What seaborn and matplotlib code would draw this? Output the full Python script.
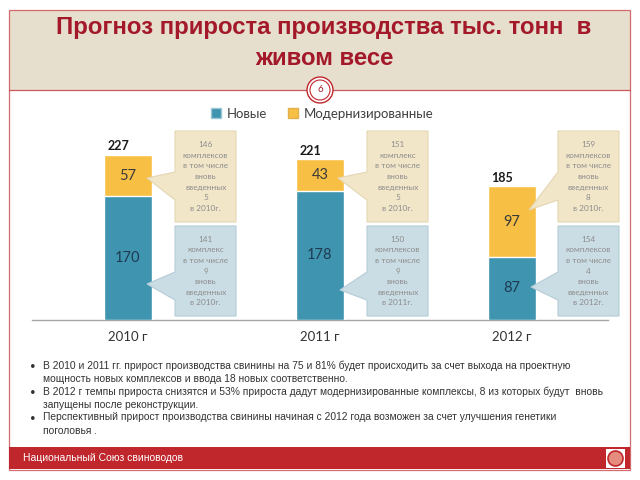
import numpy as np
import pandas as pd
import matplotlib
matplotlib.use("Agg")
import matplotlib.pyplot as plt
import seaborn as sns
from matplotlib.patches import Rectangle, Polygon, Ellipse, Patch

# ----------------------------------------------------------------------
# DATA
# ----------------------------------------------------------------------
years = ["2010 г", "2011 г", "2012 г"]
new_vals = [170, 178, 87]          # Новые
modern_vals = [57, 43, 97]         # Модернизированные
total_labels = [227, 221, 185]

yellow_notes = [
    "146\nкомплексов\nв том числе\nвновь\nвведенных\n5\nв 2010г.",
    "151\nкомплекс\nв том числе\nвновь\nвведенных\n5\nв 2010г.",
    "159\nкомплексов\nв том числе\nвновь\nвведенных\n8\nв 2010г.",
]
blue_notes = [
    "141\nкомплекс\nв том числе\n9\nвновь\nвведенных\nв 2010г.",
    "150\nкомплексов\nв том числе\n9\nвновь\nвведенных\nв 2011г.",
    "154\nкомплексов\nв том числе\n4\nвновь\nвведенных\nв 2012г.",
]

title_text = "Прогноз прироста производства тыс. тонн  в\nживом весе"
bullets = [
    "В 2010 и 2011 гг. прирост производства свинины на 75 и 81% будет происходить за счет выхода на проектную\n"
    "мощность новых комплексов и ввода 18 новых соответственно.",
    "В 2012 г темпы прироста снизятся и 53% прироста дадут модернизированные комплексы, 8 из которых будут  вновь\n"
    "запущены после реконструкции.",
    "Перспективный прирост производства свинины начиная с 2012 года возможен за счет улучшения генетики\n"
    "поголовья .",
]
footer_text = "Национальный Союз свиноводов"

BLUE = "#3F94B0"
YELLOW = "#F8BF45"
RED = "#C0272D"
DARK_RED = "#A3192A"

df = pd.DataFrame({"year": years, "new": new_vals, "modern": modern_vals})
df["stack"] = df["new"] + df["modern"]

sns.set_theme(style="white")
plt.rcParams["font.family"] = ["Lato", "DejaVu Sans"]

W, H = 640, 480


def px(x, y):
    return (x / W, 1 - y / H)


fig = plt.figure(figsize=(6.4, 4.8), dpi=100)
fig.patch.set_facecolor("white")

# ----------------------------------------------------------------------
# slide frame
# ----------------------------------------------------------------------
fig.add_artist(Rectangle(px(9, 90), 621 / W, 80 / H, transform=fig.transFigure,
                         facecolor="#E6DFCD", edgecolor="none", zorder=0))
fig.add_artist(Rectangle(px(9, 470), 621 / W, 460 / H, transform=fig.transFigure,
                         facecolor="none", edgecolor="#D26A6E", lw=0.9, zorder=1))
fig.add_artist(plt.Line2D([9 / W, 630 / W], [1 - 90 / H] * 2, transform=fig.transFigure,
                          color="#C9575C", lw=0.9, zorder=1))
fig.add_artist(Rectangle(px(9, 469), 621 / W, 22 / H, transform=fig.transFigure,
                         facecolor=RED, edgecolor="none", zorder=2))

fig.text(324 / W, 1 - 43 / H, title_text, ha="center", va="center", fontsize=17.3,
         fontweight="bold", color=DARK_RED,
         family=["Liberation Sans", "DejaVu Sans"], linespacing=1.42)

cx, cy = px(320, 90)
fig.add_artist(Ellipse((cx, cy), 26 / W, 26 / H, transform=fig.transFigure,
                       facecolor="white", edgecolor=RED, lw=1.0, zorder=3))
fig.add_artist(Ellipse((cx, cy), 20 / W, 20 / H, transform=fig.transFigure,
                       facecolor="white", edgecolor=RED, lw=0.8, zorder=3))
fig.text(cx, cy, "6", ha="center", va="center", fontsize=7, color=DARK_RED, zorder=4)

fig.text(23 / W, 1 - 458 / H, footer_text, ha="left", va="center", fontsize=7.5,
         color="white", family=["Liberation Sans Narrow", "Liberation Sans", "DejaVu Sans"])
fig.add_artist(Rectangle(px(606, 468), 19 / W, 19 / H, transform=fig.transFigure,
                         facecolor="white", edgecolor="none", zorder=3))
lx, ly = px(615.5, 458.5)
fig.add_artist(Ellipse((lx, ly), 15 / W, 15 / H, transform=fig.transFigure,
                       facecolor="#E58C7E", edgecolor=RED, lw=1.2, zorder=4))

# ----------------------------------------------------------------------
# bars
# ----------------------------------------------------------------------
ax = fig.add_axes([32 / W, 160 / H, 576 / W, 218 / H])
sns.barplot(data=df, x="year", y="stack", color=YELLOW, width=0.25,
            saturation=1, ax=ax, zorder=2)
sns.barplot(data=df, x="year", y="new", color=BLUE, width=0.25,
            saturation=1, ax=ax, zorder=3)
ax.set_xlim(-0.5, 2.5)
ax.set_ylim(0, 300)
ax.set_xlabel("")
ax.set_ylabel("")
ax.set_yticks([])
ax.patch.set_alpha(0)
for s in ["top", "left", "right"]:
    ax.spines[s].set_visible(False)
ax.spines["bottom"].set_color("#A6A6A6")
ax.spines["bottom"].set_linewidth(1.0)
ax.tick_params(axis="x", length=0, pad=8, labelsize=9.5, labelcolor="#333333")

for i, row in df.iterrows():
    ax.text(i, row["new"] / 2, str(row["new"]), ha="center", va="center",
            fontsize=10.5, color="#1E3B52", zorder=5)
    ax.text(i, row["new"] + row["modern"] / 2, str(row["modern"]), ha="center",
            va="center", fontsize=10.5, color="#3A3A3A", zorder=5)
    ax.text(i - 0.05, row["stack"] + 12, str(total_labels[i]), ha="center",
            va="center", fontsize=9, fontweight="bold", color="#1A1A1A", zorder=5)

fig.legend(handles=[Patch(facecolor=BLUE, edgecolor="#9CC7D6", label="Новые"),
                    Patch(facecolor=YELLOW, edgecolor="#E0B050", label="Модернизированные")],
           loc="center", bbox_to_anchor=px(322, 114), ncol=2, frameon=False,
           fontsize=9.5, handlelength=0.8, handleheight=0.8, handletextpad=0.4,
           columnspacing=1.6, labelcolor="#404040")

# ----------------------------------------------------------------------
# callouts
# ----------------------------------------------------------------------
box_left = [175, 367, 558]
box_w = 61
yellow_tips = [(147, 178), (338, 178), (529, 210)]
blue_tips = [(147, 284), (340, 290), (531, 287)]


def callout(L, T, B, tip, attach, face, edge, text):
    R = L + box_w
    verts = [px(L, T), px(R, T), px(R, B), px(L, B), px(L, attach[1]),
             px(*tip), px(L, attach[0])]
    fig.add_artist(Polygon(verts, closed=True, transform=fig.transFigure,
                           facecolor=face, edgecolor=edge, lw=0.8, zorder=4))
    fig.text((L + R) / 2 / W, 1 - (T + B) / 2 / H, text, ha="center", va="center",
             fontsize=5.9, color="#8C8C8C", linespacing=1.6, zorder=5)


for i in range(3):
    callout(box_left[i], 131, 222, yellow_tips[i], (172, 200),
            "#F2E6C9", "#E4D6B2", yellow_notes[i])
    callout(box_left[i], 226, 316, blue_tips[i], (272, 300),
            "#CADDE4", "#B5CCD6", blue_notes[i])

# ----------------------------------------------------------------------
# bullet text
# ----------------------------------------------------------------------
bullet_y = [372, 398, 424]
for y, t in zip(bullet_y, bullets):
    fig.text(30 / W, 1 - (y - 6) / H, "•", ha="left", va="center", fontsize=7,
             color="#333333")
    fig.text(43 / W, 1 - y / H, t, ha="left", va="center", fontsize=7.35,
             color="#333333", linespacing=1.42,
             family=["Liberation Sans Narrow", "Liberation Sans", "DejaVu Sans"])

fig.savefig("out.png", dpi=100)
